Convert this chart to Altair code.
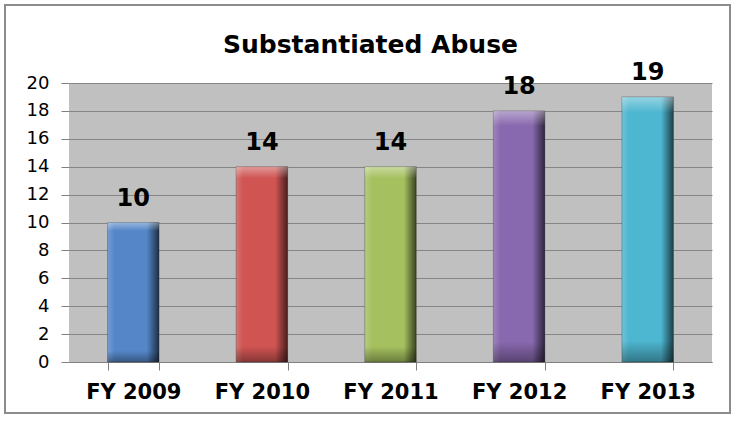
import altair as alt
import pandas as pd

categories = ["FY 2009", "FY 2010", "FY 2011", "FY 2012", "FY 2013"]
values = [10, 14, 14, 18, 19]
colors = ["#5486C8", "#CF5452", "#A5C15F", "#8868AE", "#4DB6D0"]
y_ticks = [0, 2, 4, 6, 8, 10, 12, 14, 16, 18, 20]

df = pd.DataFrame({"year": categories, "value": values, "color": colors})

W, H = 643, 279
L, T = 69, 83
FONT = "DejaVu Sans"

x_enc = alt.X(
    "year:N",
    sort=categories,
    scale=alt.Scale(paddingInner=0.6, paddingOuter=0.3),
    axis=alt.Axis(
        title=None, labelAngle=0, labelFont=FONT, labelFontWeight="bold",
        labelFontSize=21, labelColor="black", labelPadding=11,
        domainColor="#808080", domainWidth=1.2, tickColor="#808080",
        tickBand="extent", tickSize=8, grid=False,
    ),
)
y_enc = alt.Y(
    "value:Q",
    scale=alt.Scale(domain=[0, 20], nice=False),
    axis=alt.Axis(
        title=None, values=y_ticks, labelFont=FONT, labelFontSize=18,
        labelColor="black", labelPadding=12, tickSize=8, tickColor="#808080",
        domain=False, gridColor="#858585", gridWidth=1, labelOverlap=False,
    ),
)

base = alt.Chart(df)

bars = base.mark_bar(stroke="#2a2a2a", strokeWidth=0.6, strokeOpacity=0.6).encode(
    x=x_enc,
    y=y_enc,
    color=alt.Color("color:N", scale=None),
)

shade_h = base.mark_bar(
    color=alt.Gradient(
        gradient="linear", x1=0, x2=1, y1=0, y2=0,
        stops=[
            alt.GradientStop(color="rgba(255,255,255,0.18)", offset=0),
            alt.GradientStop(color="rgba(255,255,255,0)", offset=0.14),
            alt.GradientStop(color="rgba(0,0,0,0)", offset=0.76),
            alt.GradientStop(color="rgba(0,0,0,0.65)", offset=1),
        ],
    )
).encode(x=x_enc, y=y_enc)

shade_v = base.mark_bar(
    color=alt.Gradient(
        gradient="linear", x1=0, x2=0, y1=0, y2=1,
        stops=[
            alt.GradientStop(color="rgba(255,255,255,0.4)", offset=0),
            alt.GradientStop(color="rgba(255,255,255,0)", offset=0.06),
            alt.GradientStop(color="rgba(0,0,0,0)", offset=0.92),
            alt.GradientStop(color="rgba(0,0,0,0.35)", offset=1),
        ],
    )
).encode(x=x_enc, y=y_enc)

labels = base.mark_text(
    font=FONT, fontWeight="bold", fontSize=24, color="black",
    baseline="alphabetic", dy=-17,
).encode(
    x=x_enc,
    y=y_enc,
    text="value:Q",
)

border = alt.Chart(alt.Data(values=[{}])).mark_rect(
    fill=None, stroke="#8c8c8c", strokeWidth=2
).encode(
    x=alt.value(5 - L), x2=alt.value(730 - L),
    y=alt.value(5 - T), y2=alt.value(413 - T),
)

chart = alt.layer(bars, shade_h, shade_v, labels, border).properties(
    width=W, height=H,
    title=alt.TitleParams(
        "Substantiated Abuse", font=FONT, fontSize=25, fontWeight="bold",
        color="black", anchor="middle", dx=-20, baseline="alphabetic",
        offset=-74,
    ),
    padding={"left": L, "top": T, "right": 735 - L - W, "bottom": 423 - T - H},
    autosize="none",
    background="white",
).configure_view(fill="#C0C0C0", stroke=None)

chart.save("out.html", embed_options={"renderer": "svg", "actions": False})
